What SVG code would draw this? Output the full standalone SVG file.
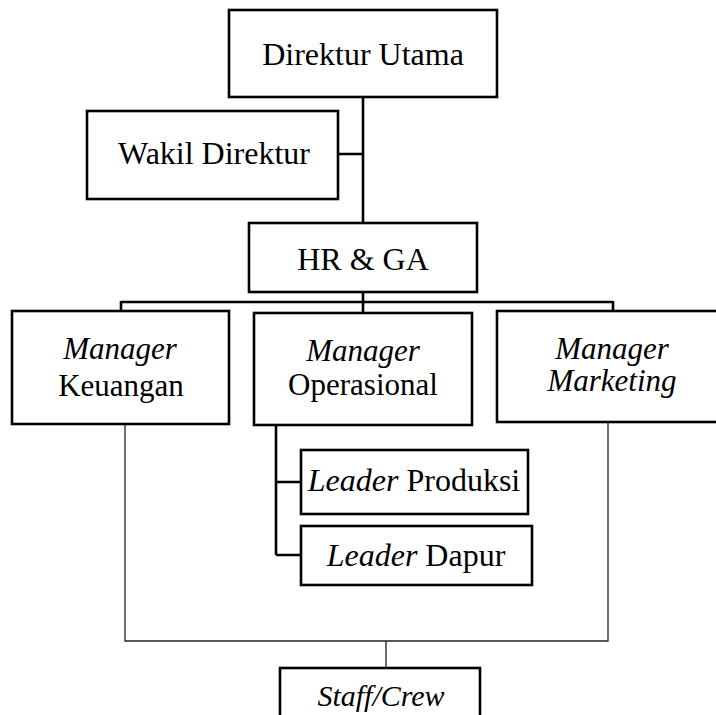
<svg xmlns="http://www.w3.org/2000/svg" width="716" height="715" viewBox="0 0 716 715">
<style>
.box{fill:#fff;stroke:#000;stroke-width:2.6}
.t{font-family:"Liberation Serif","Times New Roman",serif;font-size:32px;fill:#000;text-anchor:middle}
.m{font-size:31px}
.i{font-style:italic}
.thick{fill:none;stroke:#000;stroke-width:2.6}
.thin{fill:none;stroke:#222;stroke-width:1.3}
</style>
<rect width="716" height="715" fill="#fff"/>
<g id="connectors">
<path class="thick" d="M363 97V223M338 154H363M363 292V313M121 302H613M121 301V311M613 301V311M276 425V555M276 482H301M276 555H301"/>
<path class="thin" d="M125 424V641H608V422M386 641V668"/>
</g>
<g id="direktur-utama"><rect class="box" x="229" y="10" width="268" height="87"/><text class="t" x="363" y="65">Direktur Utama</text></g>
<g id="wakil-direktur"><rect class="box" x="87" y="111" width="251" height="88"/><text class="t" x="214" y="164">Wakil Direktur</text></g>
<g id="hr-ga"><rect class="box" x="249" y="223" width="228" height="69"/><text class="t" x="363" y="270">HR &amp; GA</text></g>
<g id="manager-keuangan"><rect class="box" x="12" y="311" width="217" height="113"/><text class="t m" x="120" y="359"><tspan class="i">Manager</tspan></text><text class="t m" x="121" y="396">Keuangan</text></g>
<g id="manager-operasional"><rect class="box" x="254" y="313" width="218" height="112"/><text class="t m" x="363" y="361"><tspan class="i">Manager</tspan></text><text class="t m" x="363" y="395">Operasional</text></g>
<g id="manager-marketing"><rect class="box" x="497" y="311" width="230" height="111"/><text class="t m i" x="612" y="359">Manager</text><text class="t m i" x="612" y="391">Marketing</text></g>
<g id="leader-produksi"><rect class="box" x="301" y="450" width="227" height="64"/><text class="t" x="414" y="491"><tspan class="i">Leader</tspan> Produksi</text></g>
<g id="leader-dapur"><rect class="box" x="301" y="526" width="231" height="59"/><text class="t" x="416" y="566"><tspan class="i">Leader</tspan> Dapur</text></g>
<g id="staff-crew"><rect class="box" x="280" y="668" width="200" height="60"/><text class="t i" x="381" y="706" style="font-size:30px">Staff/Crew</text></g>
</svg>
